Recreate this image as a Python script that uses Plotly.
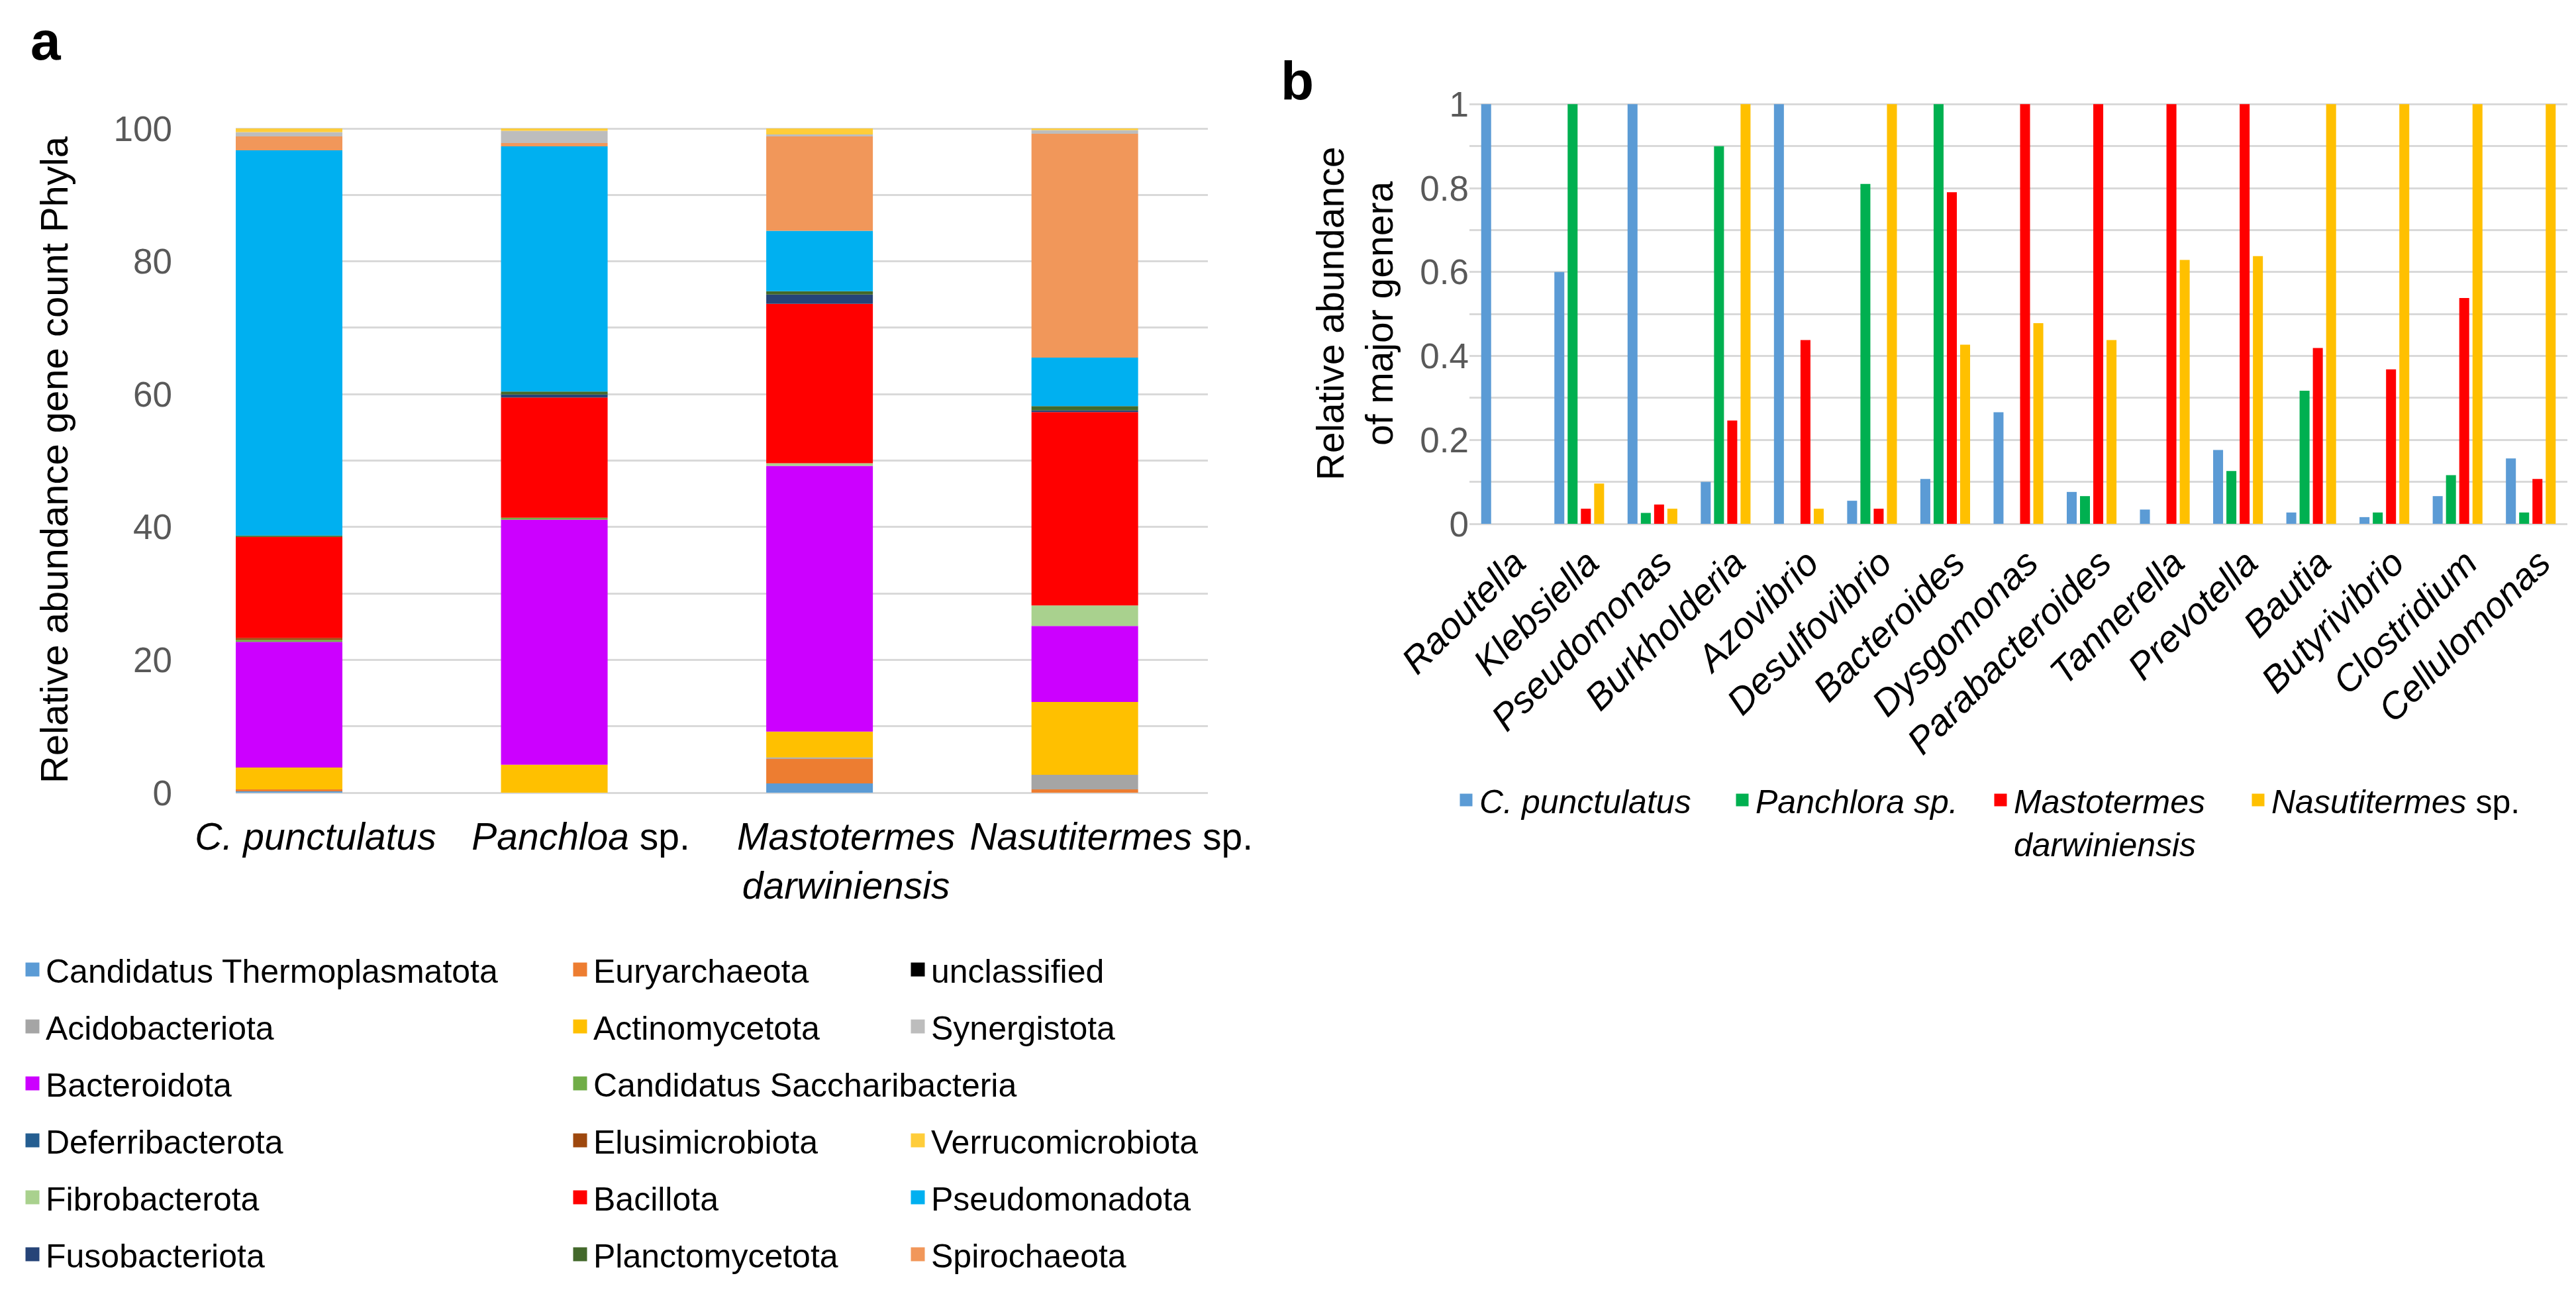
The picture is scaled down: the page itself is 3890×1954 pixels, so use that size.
import plotly.graph_objects as go

W, H = 3890, 1954
FONT = "Liberation Sans"

# ---------------- Panel a data (relative abundance, %) ----------------
hosts_a = ["<i>C. punctulatus</i>", "<i>Panchloa</i> sp.",
           "<i>Mastotermes</i><br><i>darwiniensis</i>", "<i>Nasutitermes</i> sp."]

# stacked bottom -> top, values for [C. punctulatus, Panchloa, Mastotermes, Nasutitermes]
thermoplasmatota = [0.2, 0.0, 1.4, 0.0]
euryarchaeota = [0.3, 0.0, 3.7, 0.5]
acidobacteriota = [0.0, 0.0, 0.2, 2.2]
actinomycetota = [3.3, 4.2, 3.9, 10.95]
bacteroidota = [18.9, 36.9, 40.0, 11.45]
saccharibacteria = [0.3, 0.3, 0.0, 0.0]
elusimicrobiota = [0.3, 0.0, 0.0, 0.0]
fibrobacterota = [0.0, 0.0, 0.4, 3.1]
bacillota = [15.2, 18.1, 24.0, 29.1]
deferribacterota = [0.0, 0.0, 0.0, 0.0]
fusobacteriota = [0.0, 0.45, 1.4, 0.25]
planctomycetota = [0.2, 0.45, 0.5, 0.65]
pseudomonadota = [58.0, 36.9, 9.1, 7.3]
spirochaeta = [2.1, 0.5, 14.2, 33.7]
synergistota = [0.65, 1.85, 0.3, 0.55]
verrucomicrobiota = [0.55, 0.35, 0.9, 0.25]
unclassified = [0.0, 0.0, 0.0, 0.0]

phyla_names = ["Candidatus Thermoplasmatota", "Euryarchaeota", "Acidobacteriota",
               "Actinomycetota", "Bacteroidota", "Candidatus Saccharibacteria",
               "Elusimicrobiota", "Fibrobacterota", "Bacillota", "Deferribacterota",
               "Fusobacteriota", "Planctomycetota", "Pseudomonadota", "Spirochaeota",
               "Synergistota", "Verrucomicrobiota", "unclassified"]
phyla_series = [thermoplasmatota, euryarchaeota, acidobacteriota, actinomycetota,
                bacteroidota, saccharibacteria, elusimicrobiota, fibrobacterota,
                bacillota, deferribacterota, fusobacteriota, planctomycetota,
                pseudomonadota, spirochaeta, synergistota, verrucomicrobiota,
                unclassified]
phyla_colors = ["#5B9BD5", "#ED7D31", "#A5A5A5", "#FFC000", "#CC00FF", "#70AD47",
                "#9E480E", "#A9D18E", "#FF0000", "#255E91", "#264478", "#43682B",
                "#00B0F0", "#F1975A", "#BDBDBD", "#FFCD3A", "#000000"]

# legend layout of panel a (columns, top to bottom)
legend_cols = [
    ["Candidatus Thermoplasmatota", "Acidobacteriota", "Bacteroidota",
     "Deferribacterota", "Fibrobacterota", "Fusobacteriota"],
    ["Euryarchaeota", "Actinomycetota", "Candidatus Saccharibacteria",
     "Elusimicrobiota", "Bacillota", "Planctomycetota"],
    ["unclassified", "Synergistota"],
    ["Verrucomicrobiota", "Pseudomonadota", "Spirochaeota"],
]

# ---------------- Panel b data (relative abundance of major genera) ----------------
genera = ["Raoutella", "Klebsiella", "Pseudomonas", "Burkholderia", "Azovibrio",
          "Desulfovibrio", "Bacteroides", "Dysgomonas", "Parabacteroides",
          "Tannerella", "Prevotella", "Bautia", "Butyrivibrio", "Clostridium",
          "Cellulomonas"]
hosts_b = ["<i>C. punctulatus</i>", "<i>Panchlora sp.</i>",
           "<i>Mastotermes</i><br><i>darwiniensis</i>", "<i>Nasutitermes</i> sp."]
b_punctulatus = [1.0, 0.6, 1.0, 0.1, 1.0, 0.055, 0.107, 0.266, 0.076, 0.034,
                 0.176, 0.027, 0.016, 0.066, 0.156]
b_panchlora = [0.0, 1.0, 0.026, 0.9, 0.0, 0.81, 1.0, 0.0, 0.066, 0.0,
               0.126, 0.317, 0.027, 0.116, 0.027]
b_mastotermes = [0.0, 0.036, 0.046, 0.246, 0.438, 0.036, 0.79, 1.0, 1.0, 1.0,
                 1.0, 0.419, 0.368, 0.538, 0.107]
b_nasutitermes = [0.0, 0.096, 0.036, 1.0, 0.036, 1.0, 0.427, 0.478, 0.438, 0.629,
                  0.638, 1.0, 1.0, 1.0, 1.0]
b_colors = ["#5B9BD5", "#00B050", "#FF0000", "#FFC000"]
y_ticks_a = list(range(0, 101, 10))
y_ticks_b = [i / 10 for i in range(11)]

fig = go.Figure()

# ---- panel a stacked bars (explicit base) ----
xa = list(range(len(hosts_a)))
cum = [0.0] * len(hosts_a)
for name, vals, col in zip(phyla_names, phyla_series, phyla_colors):
    fig.add_trace(go.Bar(x=xa, y=vals, base=list(cum), width=0.402, offset=-0.201,
                         marker=dict(color=col, line=dict(width=0)),
                         name=name, showlegend=False, xaxis="x", yaxis="y"))
    cum = [c + v for c, v in zip(cum, vals)]

# ---- panel a legends (legend-only marker entries) ----
color_of = dict(zip(phyla_names, phyla_colors))
legend_ids = ["legend", "legend2", "legend3", "legend4"]
for lid, names in zip(legend_ids, legend_cols):
    for nm in names:
        fig.add_trace(go.Scatter(x=[None], y=[None], mode="markers", name=nm,
                                 legend=lid, legendgroup=nm,
                                 marker=dict(symbol="square", size=16, color=color_of[nm],
                                             line=dict(color=color_of[nm], width=5)),
                                 xaxis="x", yaxis="y"))

# ---- panel b grouped bars ----
xb = list(range(len(genera)))
b_legend_ids = ["legend5", "legend6", "legend7", "legend8"]
for name, vals, col, lid in zip(hosts_b, [b_punctulatus, b_panchlora, b_mastotermes, b_nasutitermes],
                                b_colors, b_legend_ids):
    fig.add_trace(go.Bar(x=xb, y=vals, marker=dict(color=col, line=dict(width=0)),
                         name=name, showlegend=False, xaxis="x2", yaxis="y2"))
    fig.add_trace(go.Scatter(x=[None], y=[None], mode="markers", name=name,
                             legend=lid,
                             marker=dict(symbol="square", size=16, color=col,
                                         line=dict(color=col, width=3)),
                             xaxis="x2", yaxis="y2"))


def px_x(p):
    return p / W


def px_y(p):
    return 1 - p / H


grid = "#D9D9D9"
tick_grey = "#595959"

leg_common = dict(font=dict(family=FONT, size=50, color="#000000"),
                  bgcolor="rgba(0,0,0,0)", tracegroupgap=18, itemclick=False,
                  xanchor="left", yanchor="top", orientation="v")
leg_b = dict(font=dict(family=FONT, size=50, color="#000000"),
             bgcolor="rgba(0,0,0,0)", itemclick=False, valign="top",
             xanchor="left", yanchor="top", orientation="v")

fig.update_layout(
    width=W, height=H,
    margin=dict(l=0, r=0, t=0, b=0, pad=0, autoexpand=False),
    paper_bgcolor="white", plot_bgcolor="white",
    font=dict(family=FONT, color="#000000"),
    barmode="group", bargap=0.275, bargroupgap=0.25,
    xaxis=dict(domain=[px_x(348), px_x(1816)], range=[-0.201, 3.464],
               tickvals=[i + 0.1 for i in xa], ticktext=hosts_a,
               showgrid=False, zeroline=False, showline=False, ticks="",
               tickfont=dict(size=57, color="#000000"), ticklabelstandoff=28,
               automargin=False, fixedrange=True),
    yaxis=dict(domain=[px_y(1189), px_y(184)], range=[0, 100.2],
               tickvals=y_ticks_a,
               ticktext=[str(v) if v % 20 == 0 else "" for v in y_ticks_a],
               showgrid=True, gridcolor=grid, gridwidth=3,
               zeroline=True, zerolinecolor=grid, zerolinewidth=3,
               showline=False, ticks="", automargin=False,
               tickfont=dict(size=53, color=tick_grey), ticklabelstandoff=95,
               title=dict(text="Relative abundance gene count Phyla",
                          font=dict(size=58, color="#000000"), standoff=50)),
    xaxis2=dict(domain=[px_x(2211), px_x(3869)], range=[-0.5, len(genera) - 0.5],
                tickvals=[i + 0.12 for i in xb], ticktext=["<i>%s</i>" % g for g in genera],
                tickangle=-45, showgrid=False, zeroline=False, showline=False,
                ticks="", tickfont=dict(size=56, color="#000000"),
                ticklabelstandoff=14, anchor="y2", automargin=False),
    yaxis2=dict(domain=[px_y(783), px_y(148)], range=[0, 1.002],
                tickvals=y_ticks_b,
                ticktext=[("%g" % v) if round(v * 10) % 2 == 0 else "" for v in y_ticks_b],
                showgrid=True, gridcolor=grid, gridwidth=3,
                zeroline=True, zerolinecolor=grid, zerolinewidth=3,
                showline=False, ticks="", anchor="x2", automargin=False,
                tickfont=dict(size=53, color=tick_grey), ticklabelstandoff=0,
                title=dict(text="Relative abundance<br>of major genera",
                           font=dict(size=57, color="#000000"), standoff=22)),
    legend=dict(x=px_x(21), y=px_y(1417), **leg_common),
    legend2=dict(x=px_x(848), y=px_y(1417), **leg_common),
    legend3=dict(x=px_x(1358), y=px_y(1417), **leg_common),
    legend4=dict(x=px_x(1358), y=px_y(1417 + 3 * 86), **leg_common),
    legend5=dict(x=px_x(2186), y=px_y(1161), **leg_b),
    legend6=dict(x=px_x(2603), y=px_y(1161), **leg_b),
    legend7=dict(x=px_x(2993), y=px_y(1161), **leg_b),
    legend8=dict(x=px_x(3382), y=px_y(1161), **leg_b),
    annotations=[
        dict(text="<b>a</b>", x=px_x(36), y=px_y(6), xref="paper", yref="paper",
             xanchor="left", yanchor="top", showarrow=False,
             font=dict(family=FONT, size=82, color="#000000")),
        dict(text="<b>b</b>", x=px_x(1924), y=px_y(66), xref="paper", yref="paper",
             xanchor="left", yanchor="top", showarrow=False,
             font=dict(family=FONT, size=82, color="#000000")),
    ],
)

fig.write_html("out.html")
